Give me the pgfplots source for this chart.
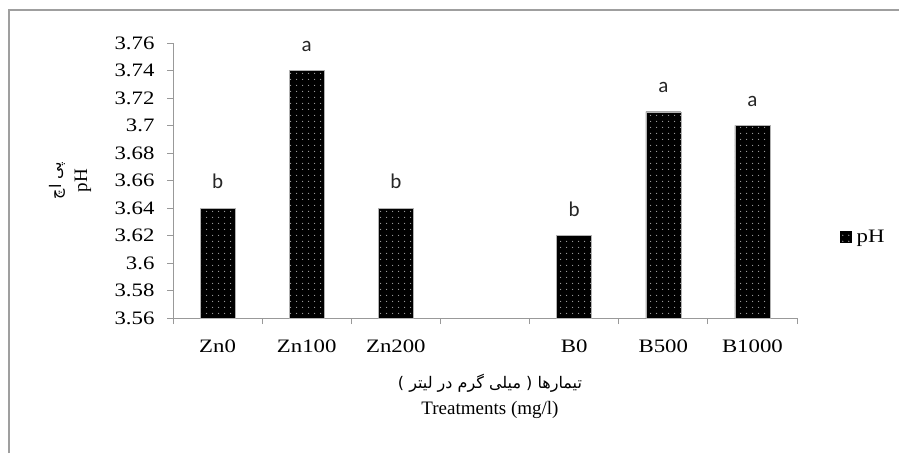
\documentclass[border=0pt]{standalone}
\usepackage{fontspec}
\setmainfont{Liberation Serif}
\newfontfamily\ticksfont[FakeStretch=1.2]{Liberation Serif}
\newfontfamily\arabicfont[Script=Arabic]{DejaVu Sans}
\newfontfamily\calibri{Carlito}
\TeXXeTstate=1
\usepackage{pgfplots}
\pgfplotsset{compat=1.18}
\usetikzlibrary{patterns}
\pgfdeclarepatternformonly{wdots}{\pgfpointorigin}{\pgfqpoint{6pt}{6pt}}{\pgfqpoint{6pt}{6pt}}{\pgfpathcircle{\pgfqpoint{3pt}{3pt}}{0.75pt}\pgfusepath{fill}}
\pgfplotsset{
  common/.style={
    at={(173pt,135pt)}, anchor=south west,
    scale only axis, width=624pt, height=275pt,
    xmin=-0.5, xmax=6.5, ymin=3.56, ymax=3.76,
  }
}
\begin{document}
\begin{tikzpicture}[x=1pt,y=1pt]
\path[use as bounding box] (0,0) rectangle (899,453);
\draw[gray!75, line width=2pt] (9,0) -- (9,443) -- (900,443);
\begin{axis}[
  common,
  axis x line*=bottom, axis y line*=left,
  axis line style={gray!80, -, line width=0.8pt},
  tick style={gray!80, line width=0.8pt},
  tick align=outside, major tick length=6pt,
  xtick={-0.5,0.5,1.5,2.5,3.5,4.5,5.5,6.5},
  x tick label as interval,
  xticklabels={Zn0,Zn100,Zn200,,B0,B500,B1000},
  ytick={3.56,3.58,3.60,3.62,3.64,3.66,3.68,3.70,3.72,3.74,3.76},
  /pgf/number format/assume math mode=true,
  ticklabel style={font=\ticksfont\fontsize{19}{19}\selectfont},
  yticklabel style={xshift=-9pt},
  xticklabel style={yshift=-12pt},
  xlabel={{\arabicfont\fontsize{16}{16}\selectfont\beginR تیمارها ( میلی گرم در لیتر )\endR}\\[4pt]Treatments (mg/l)},
  xlabel style={at={(axis description cs:0.508,-0.284)}, anchor=center, align=center, font=\fontsize{19}{22}\selectfont},
  ylabel={{\arabicfont\fontsize{16}{16}\selectfont\beginR پی اچ\endR}\\pH},
  ylabel style={at={(axis description cs:-0.165,0.5)}, anchor=center, align=center, rotate=0, font=\fontsize{19}{26}\selectfont},
  ybar, bar width=35pt,
  legend style={at={(axis description cs:1.069,0.295)}, anchor=west, draw=none, fill=none, font=\ticksfont\fontsize{19}{19}\selectfont, inner sep=0pt},
  legend image code/.code={\fill[black] (0pt,-5pt) rectangle (11pt,6pt);},
]
\addplot[fill=black, draw=gray!60, postaction={pattern=wdots, pattern color=gray!70}]
  coordinates {(0,3.64) (1,3.74) (2,3.64) (4,3.62) (5,3.71) (6,3.70)};
\addlegendentry{\hspace{3pt}pH}
\end{axis}
\begin{axis}[
  common, hide axis, clip=false,
  point meta=explicit symbolic,
]
\addplot[only marks, mark=none,
  nodes near coords,
  nodes near coords style={font=\calibri\fontsize{21}{21}\selectfont, anchor=south, inner sep=0pt, yshift=19pt, text=black!85}]
  coordinates {(0,3.64) [b] (1,3.74) [a] (2,3.64) [b] (4,3.62) [b] (5,3.71) [a] (6,3.70) [a]};
\end{axis}
\end{tikzpicture}
\end{document}
